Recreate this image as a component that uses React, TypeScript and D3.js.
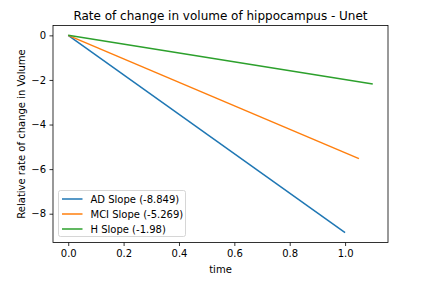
import React from 'react';
import * as d3 from 'd3';

const seriesNames = ['AD Slope (-8.849)', 'MCI Slope (-5.269)', 'H Slope (-1.98)'];
const seriesColors = ['#1f77b4', '#ff7f0e', '#2ca02c'];
const startTimes = [0, 0, 0];
const startValues = [0, 0, 0];
const endTimes = [1.0, 1.05, 1.1];
const endValues = [-8.849, -5.53, -2.178];
const xTicks = [0.0, 0.2, 0.4, 0.6, 0.8, 1.0];
const yTicks = [0, -2, -4, -6, -8];

const W = 425;
const H = 283;
const margin = { top: 25.5, right: 37, bottom: 40.5, left: 53 };

const App = () => {
  const svgRef = React.useRef(null);

  React.useEffect(() => {
    const svg = d3.select(svgRef.current);
    svg.selectAll('*').remove();

    const font = 'DejaVu Sans, sans-serif';
    const x = d3.scaleLinear().domain([-0.055, 1.155]).range([margin.left, W - margin.right]);
    const y = d3.scaleLinear().domain([0.4425, -9.2915]).range([margin.top, H - margin.bottom]);

    svg.append('rect').attr('width', W).attr('height', H).attr('fill', 'white');

    // lines
    const line = d3.line<[number, number]>().x(d => x(d[0])).y(d => y(d[1]));
    seriesNames.forEach((name, i) => {
      svg.append('path')
        .datum([[startTimes[i], startValues[i]], [endTimes[i], endValues[i]]] as [number, number][])
        .attr('d', line)
        .attr('fill', 'none')
        .attr('stroke', seriesColors[i])
        .attr('stroke-width', 1.5);
    });

    // axes
    const fmtX = (d) => d3.format('.1f')(d);
    const fmtY = (d) => (d < 0 ? '\u2212' + Math.abs(d) : String(d));

    const xAxis = svg.append('g')
      .attr('transform', `translate(0,${H - margin.bottom})`)
      .call(d3.axisBottom(x).tickValues(xTicks).tickFormat(fmtX).tickSize(3.5).tickPadding(3.5));
    const yAxis = svg.append('g')
      .attr('transform', `translate(${margin.left},0)`)
      .call(d3.axisLeft(y).tickValues(yTicks).tickFormat(fmtY).tickSize(3.5).tickPadding(3.5));

    [xAxis, yAxis].forEach(g => {
      g.select('.domain').remove();
      g.selectAll('line').attr('stroke', '#000').attr('stroke-width', 0.8);
      g.selectAll('text').attr('font-family', font).attr('font-size', 10).attr('fill', '#000');
    });

    // frame
    svg.append('rect')
      .attr('x', margin.left)
      .attr('y', margin.top)
      .attr('width', W - margin.left - margin.right)
      .attr('height', H - margin.top - margin.bottom)
      .attr('fill', 'none')
      .attr('stroke', '#000')
      .attr('stroke-width', 0.8);

    // title and labels
    svg.append('text')
      .attr('x', (margin.left + W - margin.right) / 2)
      .attr('y', 20)
      .attr('text-anchor', 'middle')
      .attr('font-family', font)
      .attr('font-size', 12)
      .text('Rate of change in volume of hippocampus - Unet');

    svg.append('text')
      .attr('x', (margin.left + W - margin.right) / 2)
      .attr('y', 273)
      .attr('text-anchor', 'middle')
      .attr('font-family', font)
      .attr('font-size', 10)
      .text('time');

    svg.append('text')
      .attr('transform', `translate(24.5,${(margin.top + H - margin.bottom) / 2}) rotate(-90)`)
      .attr('text-anchor', 'middle')
      .attr('font-family', font)
      .attr('font-size', 10)
      .text('Relative rate of change in Volume');

    // legend
    const lg = svg.append('g').attr('transform', 'translate(58.5,190.5)');
    lg.append('rect')
      .attr('width', 127)
      .attr('height', 46)
      .attr('rx', 2)
      .attr('fill', 'white')
      .attr('fill-opacity', 0.8)
      .attr('stroke', '#ccc')
      .attr('stroke-width', 0.8);
    seriesNames.forEach((name, i) => {
      const ly = 8.5 + i * 15;
      lg.append('line')
        .attr('x1', 3.5).attr('x2', 24)
        .attr('y1', ly).attr('y2', ly)
        .attr('stroke', seriesColors[i])
        .attr('stroke-width', 1.5);
      lg.append('text')
        .attr('x', 32)
        .attr('y', ly + 3.5)
        .attr('font-family', font)
        .attr('font-size', 10)
        .text(name);
    });
  }, []);

  return <svg ref={svgRef} width={W} height={H} style={{ position: 'absolute', left: 0, top: 0 }} />;
};

export default App;
